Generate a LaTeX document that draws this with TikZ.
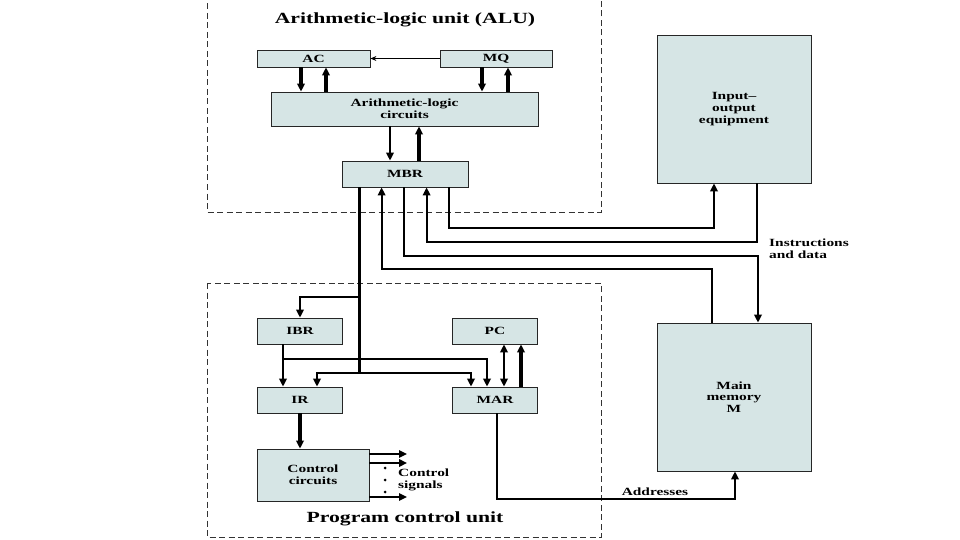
\documentclass[tikz,border=0pt]{standalone}
\usepackage{fontspec}
\setmainfont{Liberation Serif}[FakeStretch=1.4]
\usetikzlibrary{arrows.meta, calc}

\definecolor{boxfill}{RGB}{214,229,229}

\begin{document}
\begin{tikzpicture}[
    x=1pt, y=-1pt,
    font=\fontsize{11}{11.7}\selectfont\bfseries,
    reg/.style={draw=black!85, fill=boxfill, line width=0.8pt, align=center, inner sep=0pt},
    unit/.style={draw=black!80, dash pattern=on 6pt off 3.5pt, line width=0.9pt},
    heading/.style={font=\fontsize{15.5}{17}\selectfont\bfseries},
    note/.style={align=left, anchor=west, inner sep=0pt},
    thn/.style={-{Stealth[length=6pt, width=5pt]}, line width=0.9pt},
    bus/.style={line width=2.1pt},
    wide/.style={line width=3.2pt},
    tip/.style={-{Triangle[length=8pt, width=7.5pt]}},
    tips/.style={{Triangle[length=8pt, width=7.5pt]}-{Triangle[length=8pt, width=7.5pt]}}
]
\useasboundingbox (0,0) rectangle (960,540);

% dashed units
\draw[unit] (207,-6) rectangle (601,212);
\draw[unit] (207,283) rectangle (601,537);
\node[heading] (alutitle) at (405,20) {Arithmetic-logic unit (ALU)};
\node[heading] (pcutitle) at (405,519) {Program control unit};

% registers and circuits
\node[reg, minimum width=113, minimum height=17] (ac)  at (313.5,58.5) {AC};
\node[reg, minimum width=112, minimum height=17] (mq)  at (496,58.5)   {MQ};
\node[reg, minimum width=267, minimum height=34] (alc) at (404.5,109)  {Arithmetic-logic\\circuits};
\node[reg, minimum width=126, minimum height=26] (mbr) at (405,174)    {MBR};
\node[reg, minimum width=85, minimum height=26]  (ibr) at (300,331)    {IBR};
\node[reg, minimum width=85, minimum height=26]  (pc)  at (495,331)    {PC};
\node[reg, minimum width=85, minimum height=26]  (ir)  at (300,400)    {IR};
\node[reg, minimum width=85, minimum height=26]  (mar) at (495,400)    {MAR};
\node[reg, minimum width=112, minimum height=52] (ctl) at (313,475)    {Control\\circuits};
\node[reg, minimum width=154, minimum height=148] (io)  at (734,109)   {Input--\\output\\equipment};
\node[reg, minimum width=154, minimum height=148] (mem) at (734,397)   {Main\\memory\\M};

% labels
\node[note] (iolabel)  at (769,249) {Instructions\\and data};
\node[note] (siglabel) at (398,480) {Control\\signals};
\node (addrlabel) at (655,492) {Addresses};

% ports
\coordinate (acd)  at ([xshift=-12.5]ac.south);
\coordinate (acu)  at ([xshift=12.5]ac.south);
\coordinate (mqd)  at ([xshift=-14]mq.south);
\coordinate (mqu)  at ([xshift=12]mq.south);
\coordinate (alcd) at ([xshift=-14.5]alc.south);
\coordinate (alcu) at ([xshift=14.5]alc.south);
\coordinate (mb1)  at ([xshift=18]mbr.south west);
\coordinate (mb2)  at ([xshift=40]mbr.south west);
\coordinate (mb3)  at ([xshift=62]mbr.south west);
\coordinate (mb4)  at ([xshift=85]mbr.south west);
\coordinate (mb5)  at ([xshift=107]mbr.south west);
\coordinate (ioin)   at ([xshift=-20]io.south);
\coordinate (ioout)  at ([xshift=23]io.south);
\coordinate (memin)  at ([xshift=24]mem.north);
\coordinate (memout) at ([xshift=-22]mem.north);
\coordinate (memadr) at ([xshift=1]mem.south);
\coordinate (ibrout) at ([xshift=-17]ibr.south);
\coordinate (irin)   at ([xshift=17]ir.north);
\coordinate (marin1) at ([xshift=-24]mar.north);
\coordinate (marin2) at ([xshift=-8]mar.north);
\coordinate (pcio)   at ([xshift=9]mar.north);
\coordinate (pcld)   at ([xshift=26]mar.north);
\coordinate (marout) at ([xshift=2]mar.south);

% bus rows
\coordinate (ra) at (0,228);
\coordinate (rb) at (0,242);
\coordinate (rc) at (0,256);
\coordinate (rd) at (0,269);
\coordinate (re) at (0,297);
\coordinate (rf) at (0,359);
\coordinate (rg) at (0,373);
\coordinate (rh) at (0,499);

% control signal ends
\coordinate (s1) at (407,454);
\coordinate (s2) at (407,463);
\coordinate (s3) at (407,497);

% ALU links
\draw[thn] (mq.west) -- (ac.east);
\draw[wide, tip] (acd) -- (acd |- alc.north);
\draw[wide, tip] (acu |- alc.north) -- (acu);
\draw[wide, tip] (mqd) -- (mqd |- alc.north);
\draw[wide, tip] (mqu |- alc.north) -- (mqu);
\draw[bus, tip] (alcd) -- (alcd |- mbr.north);
\draw[wide, tip] (alcu |- mbr.north) -- (alcu);

% MBR to memory and I/O
\draw[bus, tip] (mb5) |- (ioin |- ra) -- (ioin);
\draw[bus, tip] (ioout) |- (mb4 |- rb) -- (mb4);
\draw[bus, tip] (mb3) |- (memin |- rc) -- (memin);
\draw[bus, tip] (memout) |- (mb2 |- rd) -- (mb2);

% MBR into program control
\draw[wide] (mb1) -- (mb1 |- rg);
\draw[bus, tip] (mb1 |- re) -| (ibr.north);
\draw[bus, tip] (mb1 |- rg) -| (irin);
\draw[bus, tip] (mb1 |- rg) -| (marin1);
\draw[bus, tip] (ibrout) -- (ibrout |- ir.north);
\draw[bus, tip] (ibrout |- rf) -| (marin2);
\draw[bus, tips] (pcio) -- (pcio |- pc.south);
\draw[wide, tip] (pcld) -- (pcld |- pc.south);
\draw[wide, tip] (ir.south) -- (ir.south |- ctl.north);
\draw[bus, line width=2.6pt, tip] (marout) |- (memadr |- rh) -- (memadr);

% control signals
\foreach \s/\w in {s1/1.4pt, s2/2.6pt, s3/1.4pt}
  \draw[tip, line width=\w] (ctl.east |- \s) -- (\s);
\foreach \y in {468,480,492}
  \fill (385,\y) circle (1.5);
\end{tikzpicture}
\end{document}
